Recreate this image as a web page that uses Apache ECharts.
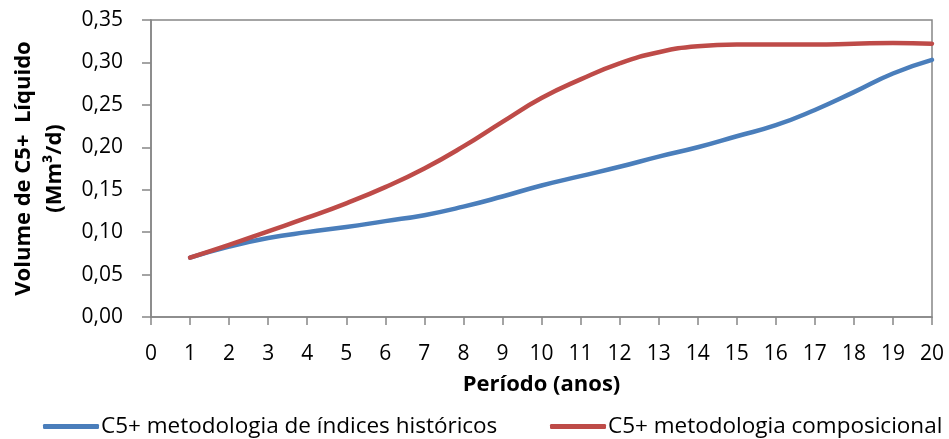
<!DOCTYPE html>
<html>
<head>
<meta charset="utf-8">
<script src="https://cdn.jsdelivr.net/npm/echarts@6/dist/echarts.min.js"></script>
<style>
  html, body { margin: 0; padding: 0; background: #fff; }
  #chart { width: 949px; height: 439px; }
</style>
</head>
<body>
<div id="chart"></div>
<script>
// Período (anos)
const periods = [1, 2, 3, 4, 5, 6, 7, 8, 9, 10, 11, 12, 13, 14, 15, 16, 17, 18, 19, 20];
// Volume de C5+ líquido (Mm³/d)
const historicos = [0.070, 0.083, 0.093, 0.100, 0.106, 0.113, 0.120, 0.130, 0.142, 0.155,
                    0.166, 0.177, 0.189, 0.200, 0.213, 0.226, 0.244, 0.265, 0.287, 0.303];
const composicional = [0.070, 0.085, 0.101, 0.117, 0.134, 0.153, 0.175, 0.201, 0.230, 0.258,
                       0.280, 0.299, 0.312, 0.319, 0.321, 0.321, 0.321, 0.322, 0.323, 0.322];
const seriesNames = ['C5+ metodologia de índices históricos', 'C5+ metodologia composicional'];
const seriesColors = ['#4A7EBB', '#BE4B48'];

const FONT = '"Open Sans", "DejaVu Sans", sans-serif';
const AXIS_GRAY = '#868686';

const pairs = (vals) => periods.map((p, i) => [p, vals[i]]);

const legendText = { fontFamily: FONT, fontSize: 22.5, color: '#000', padding: [0, 0, 0, -3] };

const chart = echarts.init(document.getElementById('chart'), null, { renderer: 'canvas' });
chart.setOption({
  animation: false,
  backgroundColor: '#fff',
  grid: {
    left: 151, right: 17, top: 20, bottom: 122,
    containLabel: false, outerBoundsMode: 'none',
    show: true, borderColor: AXIS_GRAY, borderWidth: 1.5, backgroundColor: 'transparent'
  },
  legend: [
    {
      data: [seriesNames[0]], left: 38, top: 410,
      itemWidth: 56, itemHeight: 5, icon: 'roundRect', itemGap: 2,
      textStyle: legendText
    },
    {
      data: [seriesNames[1]], left: 545, top: 410,
      itemWidth: 56, itemHeight: 5, icon: 'roundRect', itemGap: 2,
      textStyle: legendText
    }
  ],
  xAxis: {
    type: 'value', min: 0, max: 20, interval: 1,
    name: 'Período (anos)', nameLocation: 'middle', nameGap: 57,
    nameTextStyle: { fontFamily: FONT, fontSize: 22, fontWeight: 'bold', color: '#000' },
    axisLine: { show: true, lineStyle: { color: AXIS_GRAY, width: 1.5 } },
    axisTick: { show: true, inside: false, length: 8, lineStyle: { color: AXIS_GRAY, width: 1.5 } },
    axisLabel: { fontFamily: FONT, fontSize: 21, color: '#000', margin: 27 },
    splitLine: { show: false }
  },
  yAxis: {
    type: 'value', min: 0, max: 0.35, interval: 0.05,
    name: 'Volume de C5+  Líquido\n(Mm³/d)', nameLocation: 'middle', nameGap: 78, nameRotate: 90,
    nameTextStyle: { fontFamily: FONT, fontSize: 22, fontWeight: 'bold', color: '#000', lineHeight: 31 },
    axisLine: { show: true, lineStyle: { color: AXIS_GRAY, width: 1.5 } },
    axisTick: { show: true, inside: false, length: 9, lineStyle: { color: AXIS_GRAY, width: 1.5 } },
    axisLabel: {
      fontFamily: FONT, fontSize: 21, color: '#000', margin: 28,
      formatter: (v) => v.toFixed(2).replace('.', ',')
    },
    splitLine: { show: false }
  },
  series: [
    {
      name: seriesNames[0], type: 'line', smooth: 0.5, showSymbol: false,
      data: pairs(historicos), color: seriesColors[0],
      lineStyle: { width: 4.5, color: seriesColors[0], cap: 'round' }
    },
    {
      name: seriesNames[1], type: 'line', smooth: 0.5, showSymbol: false,
      data: pairs(composicional), color: seriesColors[1],
      lineStyle: { width: 4.5, color: seriesColors[1], cap: 'round' }
    }
  ]
});
</script>
</body>
</html>
